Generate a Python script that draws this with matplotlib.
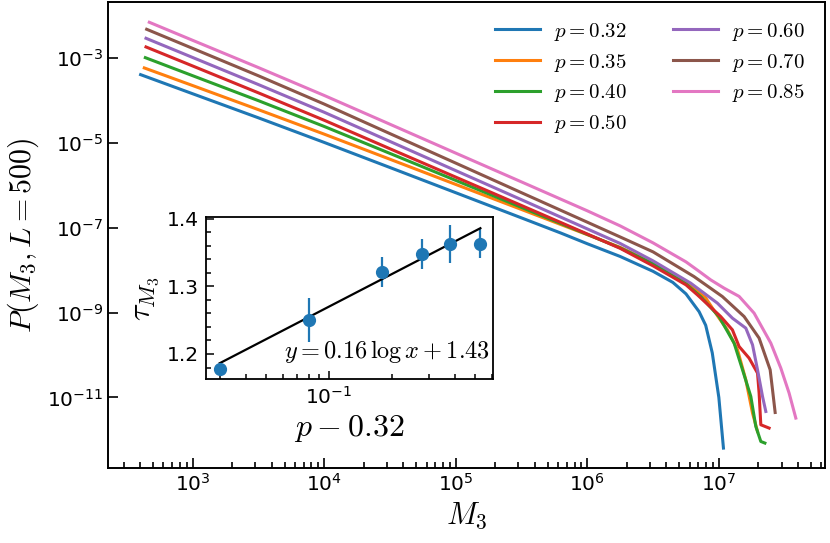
import numpy as np
import matplotlib
matplotlib.use('Agg')
import matplotlib.pyplot as plt
from matplotlib.ticker import FixedLocator, NullLocator, MultipleLocator, LogLocator

plt.rcParams['mathtext.fontset'] = 'cm'

# main panel, log10 values
p_values = ['0.32', '0.35', '0.40', '0.50', '0.60', '0.70', '0.85']

lx_032 = [2.605, 3.0, 3.5, 4.0, 4.5, 5.0, 5.5, 5.8, 6.0, 6.25, 6.5, 6.65, 6.75, 6.85, 6.9, 6.95, 7.0, 7.035]
ly_032 = [-3.400, -3.849, -4.416, -4.995, -5.586, -6.179, -6.772, -7.130, -7.380, -7.680,
          -8.030, -8.290, -8.560, -8.980, -9.300, -9.950, -11.000, -12.191]

lx_035 = [2.633, 3.0, 3.5, 4.0, 4.5, 5.0, 5.5, 6.0, 6.25, 6.5, 6.75, 6.9,
          7.0, 7.065, 7.142, 7.205, 7.256, 7.294]
ly_035 = [-3.242, -3.656, -4.224, -4.800, -5.391, -5.984, -6.574, -7.167, -7.466,
          -7.831, -8.278, -8.654, -9.125, -9.407, -9.878, -10.584, -11.367, -11.800]

lx_040 = [2.641, 3.0, 3.5, 4.0, 4.5, 5.0, 5.5, 6.0, 6.25, 6.5, 6.75, 6.862,
          7.001, 7.116, 7.180, 7.243, 7.281, 7.319, 7.350]
ly_040 = [-3.000, -3.424, -4.012, -4.619, -5.254, -5.889, -6.525, -7.160, -7.478,
          -7.854, -8.325, -8.624, -9.094, -9.720, -10.348, -10.976, -11.682, -12.035, -12.073]

lx_050 = [2.646, 3.0, 3.5, 4.0, 4.5, 5.0, 5.5, 6.0, 6.25, 6.5, 6.75, 6.837,
          7.014, 7.103, 7.154, 7.230, 7.294, 7.306, 7.319, 7.382]
ly_050 = [-2.748, -3.195, -3.828, -4.473, -5.144, -5.812, -6.480, -7.151, -7.489,
          -7.901, -8.348, -8.584, -9.094, -9.407, -9.800, -10.073, -10.426, -10.896,
          -11.642, -11.720]

lx_060 = [2.646, 3.0, 3.5, 4.0, 4.5, 5.0, 5.5, 6.0, 6.25, 6.5, 6.786,
          6.989, 7.103, 7.205, 7.256, 7.294, 7.332, 7.357]
ly_060 = [-2.544, -2.995, -3.633, -4.285, -4.972, -5.659, -6.344, -7.031, -7.374,
          -7.784, -8.308, -8.779, -9.132, -9.367, -9.760, -10.348, -10.976, -11.329]

lx_070 = [2.651, 3.0, 3.5, 4.0, 4.5, 5.0, 5.5, 6.0, 6.25, 6.5, 6.811,
          7.027, 7.192, 7.306, 7.390, 7.408, 7.428]
ly_070 = [-2.332, -2.781, -3.426, -4.092, -4.788, -5.482, -6.179, -6.873, -7.221,
          -7.572, -8.153, -8.624, -9.094, -9.602, -10.348, -10.819, -11.353]

lx_085 = [2.671, 3.0, 3.5, 4.0, 4.5, 5.0, 5.5, 6.0, 6.25, 6.5, 6.75, 6.85, 6.938,
          7.040, 7.154, 7.268, 7.395, 7.471, 7.534, 7.585]
ly_085 = [-2.167, -2.591, -3.233, -3.889, -4.567, -5.247, -5.925, -6.605, -6.960,
          -7.360, -7.807, -8.030, -8.231, -8.426, -8.620, -9.014, -9.720, -10.308, -10.896, -11.485]

curves_x = [lx_032, lx_035, lx_040, lx_050, lx_060, lx_070, lx_085]
curves_y = [ly_032, ly_035, ly_040, ly_050, ly_060, ly_070, ly_085]

# inset: exponent vs p - 0.32
dp = [0.03, 0.08, 0.18, 0.28, 0.38, 0.53]
tau = [1.178, 1.250, 1.321, 1.348, 1.362, 1.363]
tau_err = [0.004, 0.032, 0.022, 0.022, 0.028, 0.021]
fit_a = 0.16
fit_b = 1.43

fig = plt.figure(figsize=(8.3, 5.43), dpi=100)
ax = fig.add_axes([0.1301, 0.1381, 0.8639, 0.8582])

for i in range(len(p_values)):
    ax.plot(10 ** np.array(curves_x[i]), 10 ** np.array(curves_y[i]),
            lw=2.2, color='C%d' % i, label=r'$p=%s$' % p_values[i])

ax.set_xscale('log')
ax.set_yscale('log')
ax.set_xlim(10 ** 2.357, 10 ** 7.807)
ax.set_ylim(10 ** -12.66, 10 ** -1.69)
ax.yaxis.set_major_locator(FixedLocator([1e-3, 1e-5, 1e-7, 1e-9, 1e-11]))
ax.yaxis.set_minor_locator(NullLocator())
ax.xaxis.set_major_locator(LogLocator(base=10, numticks=20))
ax.xaxis.set_minor_locator(LogLocator(base=10, subs=np.arange(2, 10), numticks=20))
ax.tick_params(which='both', direction='in', labelsize=14.5, width=1.2)
ax.tick_params(which='major', length=7)
ax.tick_params(which='minor', length=4)
for s in ax.spines.values():
    s.set_linewidth(1.4)
ax.set_xlabel(r'$M_3$', fontsize=22)
ax.set_ylabel(r'$P(M_3, L=500)$', fontsize=21.5)

ax.legend(ncol=2, frameon=False, fontsize=15, handlelength=2.2, handletextpad=0.65,
          columnspacing=2.2, labelspacing=0.42,
          loc='upper right', bbox_to_anchor=(0.998, 1.0))

# inset
ins = fig.add_axes([0.2482, 0.302, 0.3454, 0.2978])
ins.errorbar(dp, tau, yerr=tau_err, fmt='o', ms=8.5, color='C0', elinewidth=1.6)
xf = np.array([dp[0], dp[-1]])
ins.plot(xf, fit_a * np.log10(xf) + fit_b, color='k', lw=1.6)
ins.set_xscale('log')
ins.set_xlim(0.0258, 0.607)
ins.set_ylim(1.163, 1.402)
ins.yaxis.set_major_locator(MultipleLocator(0.1))
ins.yaxis.set_minor_locator(MultipleLocator(0.02))
ins.tick_params(which='both', direction='in', labelsize=14.5, width=1.1, pad=5)
ins.tick_params(which='major', length=6)
ins.tick_params(which='minor', length=3.5)
for s in ins.spines.values():
    s.set_linewidth(1.3)
ins.set_xlabel(r'$p-0.32$', fontsize=23, labelpad=4)
ins.set_ylabel(r'$\tau_{M_3}$', fontsize=23, labelpad=4)
ins.text(0.99, 0.17, r'$y=0.16\,\log x+1.43$', transform=ins.transAxes,
         ha='right', va='center', fontsize=17.5)

fig.savefig('out.png', dpi=100)
